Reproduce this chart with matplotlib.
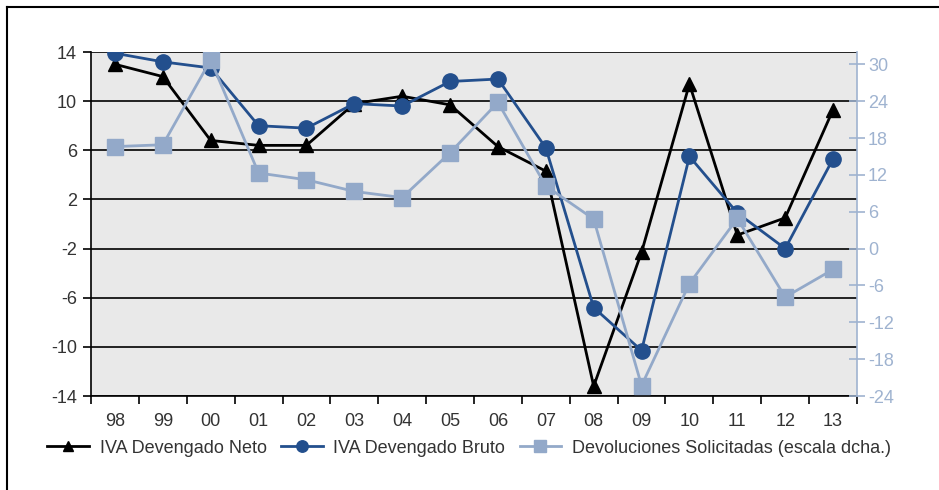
import matplotlib
matplotlib.use('Agg')
import matplotlib.pyplot as plt
from matplotlib.lines import Line2D

plt.rcParams['font.family'] = ['Liberation Sans', 'DejaVu Sans']

years = ['98', '99', '00', '01', '02', '03', '04', '05',
         '06', '07', '08', '09', '10', '11', '12', '13']
iva_neto = [13.0, 12.0, 6.8, 6.4, 6.4, 9.8, 10.4, 9.7,
            6.3, 4.3, -13.2, -2.3, 11.4, -0.9, 0.5, 9.3]
iva_bruto = [13.9, 13.2, 12.7, 8.0, 7.8, 9.8, 9.6, 11.6,
             11.8, 6.2, -6.8, -10.3, 5.5, 0.9, -2.0, 5.3]
devoluciones = [16.6, 16.9, 30.7, 12.3, 11.2, 9.3, 8.3, 15.6,
                23.8, 10.2, 4.8, -22.3, -5.7, 4.9, -7.9, -3.4]
left_ticks = [14, 10, 6, 2, -2, -6, -10, -14]
right_ticks = [30, 24, 18, 12, 6, 0, -6, -12, -18, -24]

dark_blue = '#234f8d'
light_blue = '#93a9c9'
axis_blue = '#9fb3d0'
txt = '#333333'

fig = plt.figure(figsize=(9.39, 4.9), dpi=100)
ax = fig.add_axes([91 / 939, 1 - 396 / 490, 766 / 939, 344 / 490])
ax.set_facecolor('#e9e9e9')

x = list(range(len(years)))
ax.plot(x, iva_neto, color='black', lw=2, marker='^', ms=10,
        label='IVA Devengado Neto', zorder=3)
ax.plot(x, iva_bruto, color=dark_blue, lw=2, marker='o', ms=11,
        label='IVA Devengado Bruto', zorder=3)

ax.set_xlim(-0.5, len(years) - 0.5)
ax.set_ylim(-14, 14)
ax.set_yticks(left_ticks)
ax.set_yticklabels([str(t) for t in left_ticks])
ax.set_xticks([i - 0.5 for i in range(len(years) + 1)])
ax.set_xticklabels([])
ax.set_xticks(x, minor=True)
ax.set_xticklabels(years, minor=True)
ax.tick_params(axis='x', which='major', length=6, width=1.2, direction='out')
ax.tick_params(axis='x', which='minor', length=0, pad=12, labelsize=13, labelcolor=txt)
ax.tick_params(axis='y', length=6, width=1.2, direction='out', labelsize=13,
               labelcolor=txt, pad=4)
ax.grid(axis='y', color='black', lw=1.2)
ax.set_axisbelow(True)
for s in ['top', 'right']:
    ax.spines[s].set_visible(False)
ax.spines['left'].set_linewidth(1.2)
ax.spines['bottom'].set_linewidth(1.2)

ax2 = ax.twinx()
ax2.plot(x, devoluciones, color=light_blue, lw=2, marker='s', ms=11,
         label='Devoluciones Solicitadas (escala dcha.)', zorder=3)
ax2.set_ylim(-24, 32)
ax2.set_yticks(right_ticks)
ax2.set_yticklabels([str(t) for t in right_ticks])
ax2.tick_params(axis='y', length=12, width=1.2, direction='inout', colors=axis_blue,
                labelsize=13, pad=2)
for s in ['top', 'left', 'bottom']:
    ax2.spines[s].set_visible(False)
ax2.spines['right'].set_color(axis_blue)
ax2.spines['right'].set_linewidth(1.2)

handles = ax.get_lines() + ax2.get_lines()
fig.legend(handles, [h.get_label() for h in handles], ncol=3, frameon=False,
           loc='center left', bbox_to_anchor=(40 / 939, 1 - 448 / 490),
           fontsize=13, labelcolor=txt, handlelength=2.3, handletextpad=0.6,
           columnspacing=0.8, borderaxespad=0, markerscale=0.75)

fig.add_artist(Line2D([7 / 939, 1], [1 - 7 / 490, 1 - 7 / 490],
                      color='black', lw=1.5, transform=fig.transFigure))
fig.add_artist(Line2D([7 / 939, 7 / 939], [0, 1 - 7 / 490],
                      color='black', lw=1.5, transform=fig.transFigure))

fig.savefig('out.png', dpi=100)
